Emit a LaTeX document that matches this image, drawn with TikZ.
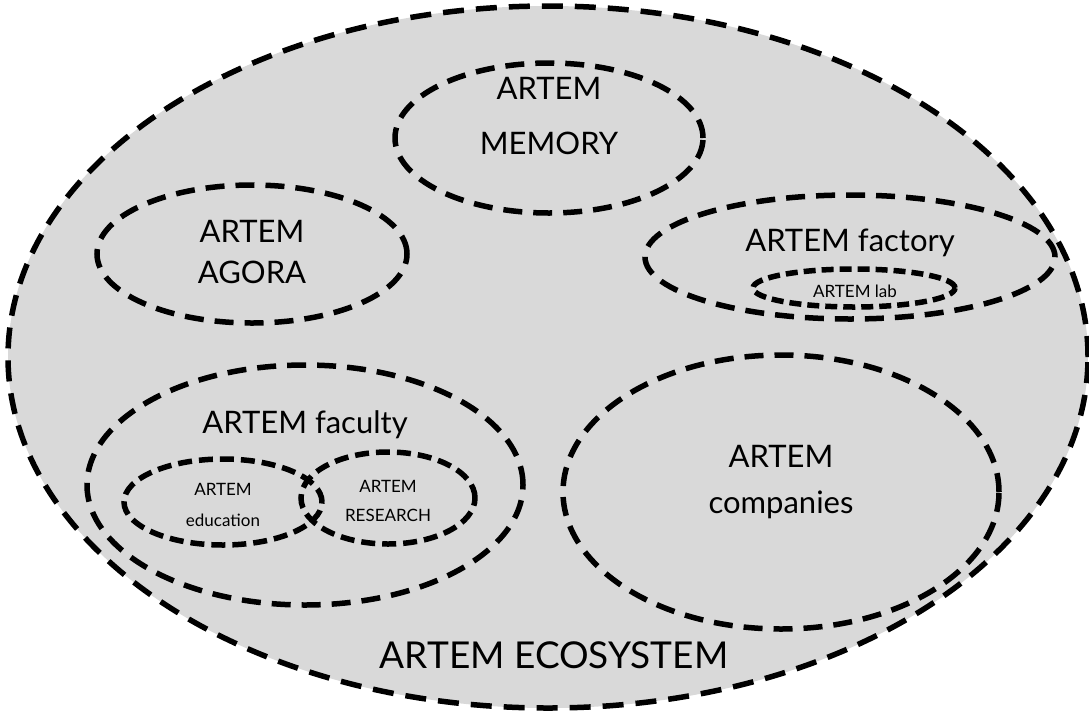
\documentclass[tikz,border=0pt]{standalone}
\usepackage{fontspec}
\setmainfont{Lato}
\usetikzlibrary{shapes.geometric}
\begin{document}
\begin{tikzpicture}[x=1pt,y=-1pt,
  zone/.style={ellipse,draw=black,line width=5.5pt,dash pattern=on 19pt off 11pt,inner sep=0pt},
  bigtxt/.style={font=\fontsize{31}{36}\selectfont,inner sep=0pt},
  smalltxt/.style={font=\fontsize{17}{20}\selectfont,inner sep=0pt}]
\useasboundingbox (0,0) rectangle (1089,713);
\node[ellipse,fill={rgb,255:red,217;green,217;blue,217},draw=black,line width=5.5pt,dash pattern=on 21pt off 12pt,minimum width=1080pt,minimum height=702pt,inner sep=0pt] (eco) at (548,357) {};
\node[zone,minimum width=308pt,minimum height=150pt] (memory) at (549,138) {};
\node[zone,minimum width=310pt,minimum height=138pt] (agora) at (252,254) {};
\node[zone,minimum width=410pt,minimum height=124pt] (factory) at (850,257) {};
\node[zone,minimum width=202pt,minimum height=38pt,dash pattern=on 12pt off 6pt] (lab) at (854,288) {};
\node[zone,minimum width=436pt,minimum height=240pt] (faculty) at (305,485) {};
\node[zone,minimum width=198pt,minimum height=86pt,dash pattern=on 14pt off 7pt] (education) at (223,502) {};
\node[zone,minimum width=174pt,minimum height=92pt,dash pattern=on 14pt off 7pt] (research) at (388,498) {};
\node[zone,minimum width=436pt,minimum height=274pt] (companies) at (781,492) {};
\node[bigtxt] (tmem1) at (549,88) {ARTEM};
\node[bigtxt] (tmem2) at (549,143) {MEMORY};
\node[bigtxt] (tag1) at (252,231) {ARTEM};
\node[bigtxt] (tag2) at (252,272) {AGORA};
\node[bigtxt] (tfac) at (850,243) {ARTEM factory};
\node[smalltxt] (tlab) at (855,291) {ARTEM lab};
\node[bigtxt] (tfacu) at (305,425) {ARTEM faculty};
\node[smalltxt] (ted1) at (223,489) {ARTEM};
\node[smalltxt] (ted2) at (223,520) {education};
\node[smalltxt] (tre1) at (388,486) {ARTEM};
\node[smalltxt] (tre2) at (388,515) {RESEARCH};
\node[bigtxt] (tco1) at (781,456) {ARTEM};
\node[bigtxt] (tco2) at (781,505) {companies};
\node[font=\fontsize{37}{42}\selectfont,inner sep=0pt] (teco) at (554,655) {ARTEM ECOSYSTEM};
\end{tikzpicture}
\end{document}
